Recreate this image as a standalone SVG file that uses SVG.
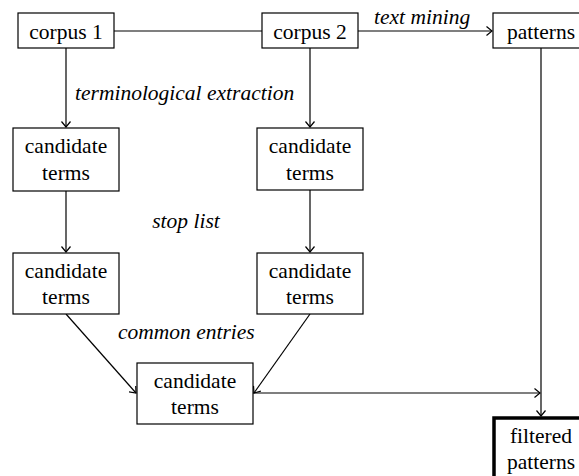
<svg xmlns="http://www.w3.org/2000/svg" width="579" height="476" viewBox="0 0 579 476">
<style>
.box{fill:#fff;stroke:#000;stroke-width:1.2}
.thick{fill:#fff;stroke:#000;stroke-width:3.5}
.t{font-family:'Liberation Serif','Times New Roman',Times,'Nimbus Roman','DejaVu Serif',serif;font-size:21.5px;fill:#000;text-anchor:middle}
.l{font-family:'Liberation Serif','Times New Roman',Times,'Nimbus Roman','DejaVu Serif',serif;font-size:21.5px;font-style:italic;fill:#000}
.c{stroke:#000;stroke-width:1.2;fill:none}
</style>
<defs>
<marker id="arr" markerWidth="8" markerHeight="10" refX="6" refY="5" orient="auto" markerUnits="userSpaceOnUse">
<path d="M0.5,0.5 L6,5 L0.5,9.5" fill="none" stroke="#000" stroke-width="1.2"/>
</marker>
</defs>
<g id="connectors">
<line class="c" x1="114" y1="31" x2="262" y2="31"/>
<line class="c" x1="358" y1="31" x2="492" y2="31" marker-end="url(#arr)"/>
<line class="c" x1="66" y1="48" x2="66" y2="127" marker-end="url(#arr)"/>
<line class="c" x1="310" y1="48" x2="310" y2="127" marker-end="url(#arr)"/>
<line class="c" x1="66" y1="191" x2="66" y2="252" marker-end="url(#arr)"/>
<line class="c" x1="310" y1="190" x2="310" y2="252" marker-end="url(#arr)"/>
<line class="c" x1="66" y1="314" x2="136" y2="393" marker-end="url(#arr)"/>
<line class="c" x1="310" y1="314" x2="254" y2="393" marker-end="url(#arr)"/>
<line class="c" x1="253" y1="393" x2="540" y2="393" marker-end="url(#arr)"/>
<line class="c" x1="541" y1="48" x2="541" y2="416" marker-end="url(#arr)"/>
<text class="l" x="75" y="100" font-family="Liberation Serif, serif">terminological extraction</text>
<text class="l" x="374" y="24" font-family="Liberation Serif, serif">text mining</text>
<text class="l" x="186" y="228" text-anchor="middle" font-family="Liberation Serif, serif">stop list</text>
<text class="l" x="118" y="339" font-family="Liberation Serif, serif">common entries</text>
</g>
<g id="corpus1">
<rect class="box" x="18" y="13" width="96" height="35"/>
<text class="t" x="66" y="39">corpus 1</text>
</g>
<g id="corpus2">
<rect class="box" x="262" y="13" width="96" height="35"/>
<text class="t" x="310" y="39">corpus 2</text>
</g>
<g id="patterns">
<rect class="box" x="493" y="13" width="96" height="35"/>
<text class="t" x="541" y="39">patterns</text>
</g>
<g id="cand1">
<rect class="box" x="13" y="128" width="106" height="63"/>
<text class="t" x="66" y="153">candidate</text>
<text class="t" x="66" y="180">terms</text>
</g>
<g id="cand2">
<rect class="box" x="257" y="128" width="106" height="62"/>
<text class="t" x="310" y="153">candidate</text>
<text class="t" x="310" y="180">terms</text>
</g>
<g id="cand3">
<rect class="box" x="13" y="253" width="106" height="61"/>
<text class="t" x="66" y="278">candidate</text>
<text class="t" x="66" y="304">terms</text>
</g>
<g id="cand4">
<rect class="box" x="257" y="253" width="106" height="61"/>
<text class="t" x="310" y="278">candidate</text>
<text class="t" x="310" y="304">terms</text>
</g>
<g id="cand5">
<rect class="box" x="137" y="363" width="116" height="61"/>
<text class="t" x="195" y="388">candidate</text>
<text class="t" x="195" y="414">terms</text>
</g>
<g id="filtered">
<rect class="thick" x="494" y="418" width="96" height="70"/>
<text class="t" x="541" y="443">filtered</text>
<text class="t" x="541" y="469">patterns</text>
</g>
</svg>
